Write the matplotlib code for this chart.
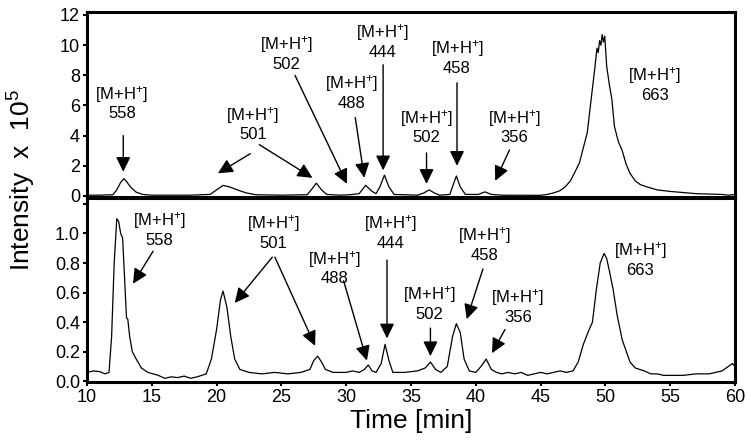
import matplotlib
matplotlib.use("Agg")
import matplotlib.pyplot as plt

plt.rcParams['font.family'] = ['Liberation Sans', 'DejaVu Sans']
plt.rcParams['mathtext.fontset'] = 'custom'
plt.rcParams['mathtext.rm'] = 'Liberation Sans'
plt.rcParams['mathtext.it'] = 'Liberation Sans'
plt.rcParams['mathtext.bf'] = 'Liberation Sans'

# ---- top trace (intensity x 1e5) ----
top_t = [10.0, 11.0, 12.0, 12.3, 12.6, 12.85, 13.1, 13.4, 13.8, 14.3, 15.0, 18.0, 19.5,
         20.0, 20.5, 21.0, 21.6, 22.3, 23.0, 25.0, 27.0, 27.3, 27.7, 28.1, 28.5, 29.5,
         30.3, 31.0, 31.5, 32.0, 32.3, 32.6, 32.95, 33.3, 33.7, 35.5, 36.0, 36.4, 36.8,
         37.2, 38.0, 38.2, 38.5, 38.8, 39.2, 40.2, 40.7, 41.2, 42.0, 45.0, 45.5, 46.0,
         46.5, 46.9, 47.3, 47.6, 48.0, 48.3, 48.6, 48.9, 49.2, 49.35, 49.45, 49.55,
         49.65, 49.75, 49.85, 49.95, 50.1, 50.3, 50.5, 50.7, 51.0, 51.3, 51.6, 51.9,
         52.3, 52.7, 53.2, 54.0, 55.0, 57.0, 59.0, 59.5, 60.0]
top_y = [0.05, 0.05, 0.08, 0.4, 0.9, 1.15, 0.9, 0.55, 0.25, 0.1, 0.05, 0.05, 0.1,
         0.4, 0.7, 0.6, 0.4, 0.2, 0.08, 0.05, 0.08, 0.4, 0.85, 0.4, 0.1, 0.05,
         0.08, 0.15, 0.7, 0.3, 0.15, 0.6, 1.38, 0.6, 0.1, 0.05, 0.2, 0.4, 0.2,
         0.05, 0.1, 0.6, 1.32, 0.6, 0.1, 0.1, 0.27, 0.1, 0.05, 0.04, 0.1, 0.2,
         0.35, 0.6, 1.0, 1.5, 2.2, 3.2, 4.2, 6.4, 8.6, 9.8, 9.5, 10.3,
         10.0, 10.7, 10.2, 10.6, 8.6, 7.4, 6.4, 4.6, 3.6, 3.0, 2.1, 1.5,
         1.0, 0.75, 0.6, 0.4, 0.3, 0.15, 0.1, 0.05, 0.1]

# ---- bottom trace (intensity x 1e5) ----
bot_t = [10.0, 10.5, 11.0, 11.4, 11.7, 11.9, 12.1, 12.3, 12.45, 12.6, 12.75, 12.9,
         13.05, 13.15, 13.3, 13.5, 13.8, 14.2, 14.7, 15.5, 16.0, 16.5, 17.0, 17.5,
         18.0, 18.5, 19.2, 19.6, 20.0, 20.3, 20.5, 20.8, 21.1, 21.4, 21.8, 22.5,
         23.5, 24.5, 25.5, 26.5, 27.2, 27.5, 27.8, 28.1, 28.4, 29.0, 30.0, 30.5,
         31.0, 31.4, 31.7, 32.0, 32.3, 32.7, 33.0, 33.3, 33.6, 34.5, 35.5, 36.1,
         36.5, 36.9, 37.3, 37.8, 38.2, 38.5, 38.8, 39.1, 39.5, 40.0, 40.4, 40.8,
         41.2, 41.6, 42.0, 42.5, 43.0, 43.5, 44.0, 44.5, 45.0, 45.5, 46.0, 46.5,
         47.0, 47.5, 47.9, 48.3, 48.7, 49.0, 49.3, 49.6, 49.9, 50.1, 50.3, 50.6,
         50.9, 51.3, 51.9, 52.3, 53.0, 53.5, 54.0, 54.5, 55.0, 56.0, 57.0, 58.0,
         59.0, 59.8, 60.0]
bot_y = [0.06, 0.07, 0.065, 0.05, 0.06, 0.3, 0.8, 1.1, 1.08, 1.0, 0.97, 0.7,
         0.43, 0.42, 0.3, 0.2, 0.15, 0.09, 0.06, 0.04, 0.02, 0.03, 0.025, 0.035,
         0.02, 0.03, 0.05, 0.15, 0.35, 0.55, 0.61, 0.5, 0.3, 0.15, 0.08, 0.06,
         0.05, 0.06, 0.05, 0.06, 0.08, 0.14, 0.17, 0.13, 0.08, 0.06, 0.06, 0.07,
         0.06, 0.08, 0.11, 0.07, 0.06, 0.12, 0.25, 0.14, 0.06, 0.06, 0.07, 0.09,
         0.13, 0.08, 0.06, 0.1, 0.3, 0.39, 0.33, 0.15, 0.07, 0.06, 0.1, 0.15,
         0.08, 0.06, 0.05, 0.06, 0.05, 0.06, 0.04, 0.05, 0.06, 0.05, 0.06, 0.07,
         0.06, 0.07, 0.13, 0.25, 0.34, 0.4, 0.62, 0.8, 0.865, 0.83, 0.75, 0.62,
         0.45, 0.28, 0.13, 0.09, 0.07, 0.05, 0.05, 0.04, 0.04, 0.04, 0.05, 0.05,
         0.07, 0.12, 0.1]

# ---- annotations: label mass, text position, arrow (start, end) ----
top_masses = ["558", "501", "502", "488", "444", "502", "458", "356", "663"]
top_text_xy = [(12.7, 6.2), (22.8, 4.8), (25.4, 9.5), (30.4, 6.9), (32.8, 10.3),
               (36.2, 4.6), (38.55, 9.2), (43.0, 4.6), (53.8, 7.4)]
top_arrows = [((12.8, 4.0), (12.8, 1.6)),
              ((22.6, 2.8), (20.1, 1.5)),
              ((23.3, 3.4), (27.4, 1.2)),
              ((26.05, 8.0), (30.06, 0.8)),
              ((30.7, 5.2), (31.4, 1.2)),
              ((32.85, 8.7), (32.85, 1.7)),
              ((36.2, 2.85), (36.2, 0.8)),
              ((38.55, 7.5), (38.55, 2.0)),
              ((42.6, 3.05), (41.5, 1.0))]

bot_masses = ["558", "501", "488", "444", "502", "458", "356", "663"]
bot_text_xy = [(15.6, 1.03), (24.4, 1.01), (29.1, 0.77), (33.4, 1.01),
               (36.4, 0.53), (40.7, 0.93), (43.25, 0.51), (52.7, 0.83)]
bot_arrows = [((15.1, 0.88), (13.55, 0.66)),
              ((24.3, 0.84), (21.4, 0.53)),
              ((24.5, 0.84), (27.6, 0.24)),
              ((29.8, 0.68), (31.6, 0.14)),
              ((33.15, 0.82), (33.15, 0.29)),
              ((36.5, 0.36), (36.5, 0.17)),
              ((40.55, 0.76), (39.3, 0.42)),
              ((42.25, 0.35), (41.25, 0.19))]

top_yticks = [0, 2, 4, 6, 8, 10, 12]
bot_yticks = [0.0, 0.2, 0.4, 0.6, 0.8, 1.0]
xticks = [10, 15, 20, 25, 30, 35, 40, 45, 50, 55, 60]

fig = plt.figure(figsize=(7.51, 4.47), dpi=100)
ax1 = fig.add_axes([0.1158, 0.5593, 0.8629, 0.4139])
ax2 = fig.add_axes([0.1158, 0.1454, 0.8629, 0.4116], sharex=ax1)

ax1.plot(top_t, top_y, color='black', lw=0.9)
ax2.plot(bot_t, bot_y, color='black', lw=0.9)

ax1.set_xlim(10, 60)
ax1.set_ylim(-0.07, 12.2)
ax2.set_ylim(-0.005, 1.24)

for ax in (ax1, ax2):
    for s in ax.spines.values():
        s.set_linewidth(2.2)
    ax.tick_params(axis='both', direction='out', length=3, width=1.5,
                   labelsize=13, pad=2)

ax1.set_yticks(top_yticks)
ax1.set_yticklabels([str(v) for v in top_yticks])
ax1.tick_params(axis='x', bottom=False, labelbottom=False)

ax2.set_yticks(bot_yticks)
ax2.set_yticklabels(["%.1f" % v for v in bot_yticks])
ax2.set_yticks([1.2], minor=True)
ax2.tick_params(axis='y', which='minor', direction='out', length=3, width=1.5)
ax2.set_xticks(xticks)
ax2.set_xticklabels([str(v) for v in xticks])

arrow_kw = dict(arrowstyle='-|>,head_length=0.45,head_width=0.22', color='black',
                lw=1.0, mutation_scale=20, shrinkA=0, shrinkB=0)

def label(m):
    return "[M+H$^{+}$]\n" + m

for m, (tx, ty) in zip(top_masses, top_text_xy):
    ax1.text(tx, ty, label(m), ha='center', va='center', fontsize=12,
             linespacing=1.15)
for (s, e) in top_arrows:
    ax1.annotate('', xy=e, xytext=s, arrowprops=arrow_kw)

for m, (tx, ty) in zip(bot_masses, bot_text_xy):
    ax2.text(tx, ty, label(m), ha='center', va='center', fontsize=12,
             linespacing=1.15)
for (s, e) in bot_arrows:
    ax2.annotate('', xy=e, xytext=s, arrowprops=arrow_kw)

fig.text(0.029, 0.597, "Intensity  x  10$^{5}$", rotation=90, ha='center',
         va='center', fontsize=19)
ax2.set_xlabel("Time [min]", fontsize=19, labelpad=2)

fig.savefig("out.png", dpi=100)
